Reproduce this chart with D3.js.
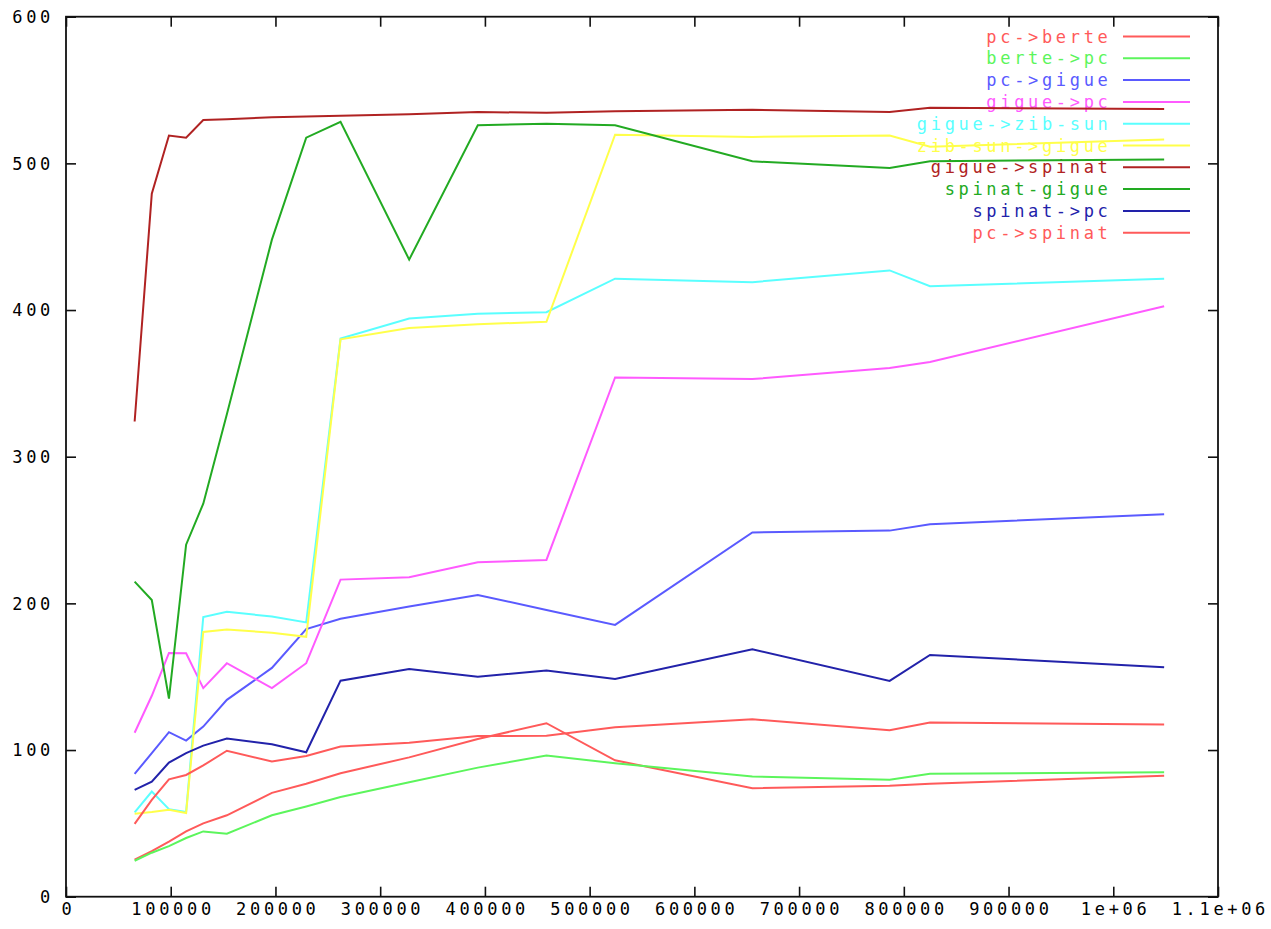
<!DOCTYPE html>
<html>
<head>
<meta charset="utf-8">
<script src="https://cdn.jsdelivr.net/npm/d3@7/dist/d3.min.js"></script>
<style>
  html, body { margin: 0; padding: 0; background: #fff; }
  svg { display: block; }
  text { font-family: "DejaVu Sans Mono", "Liberation Mono", monospace; }
</style>
</head>
<body>
<svg id="chart" width="1271" height="929"></svg>
<script>
// Message sizes (bytes) at which each transfer was measured
const sizes = [65536, 81920, 98304, 114688, 131072, 153600, 196608, 229376, 262144,
               327680, 393216, 458752, 524288, 655360, 786432, 825000, 1048576];

// Throughput per link, one value per size
const pcBerte      = [25.2, 31, 37.5, 44.5, 50, 55.5, 70.8, 77, 84.2, 95, 107.5, 118.3, 93, 74, 75.6, 77, 82.4];
const bertePc      = [24.5, 30, 34.5, 40, 44.5, 43, 55.5, 61.5, 68, 78, 88, 96.3, 91, 82, 79.7, 83.8, 84.9];
const pcGigue      = [83.7, 97.9, 112.2, 106.4, 116, 134.2, 156, 182.5, 189.5, 197.8, 205.7, 195.5, 185.3, 248.4, 249.6, 254, 260.7];
const giguePc      = [111.8, 137, 166.2, 166, 142.2, 159.2, 142.2, 159.2, 216.2, 217.8, 228, 229.6, 354, 352.9, 360.5, 364.6, 402.6];
const gigueZibSun  = [57.5, 71.7, 59.7, 57.8, 190.7, 194.3, 191, 187, 380.5, 394.2, 397.5, 398.5, 421.4, 419, 427, 416.2, 421.4];
const zibSunGigue  = [56.5, 57.7, 59.3, 57, 180.5, 182.2, 180, 177.2, 380, 387.8, 390.3, 392, 519.5, 518, 519, 511.3, 516.3];
const gigueSpinat  = [324, 479.3, 519, 517.5, 529.5, 530, 531.5, 532, 532.5, 533.5, 535, 534.5, 535.5, 536.5, 535, 538, 537];
const spinatGigue  = [214.8, 202.3, 135, 240, 268, 329, 448, 517.5, 528.3, 434.4, 526, 527, 526, 501.4, 496.8, 501.4, 502.7];
const spinatPc     = [72.9, 78.5, 91.5, 97.9, 103, 107.8, 104, 98.5, 147.3, 155.3, 150, 154.2, 148.5, 168.7, 147.1, 164.8, 156.5];
const pcSpinat     = [49.7, 66, 80, 83, 89.5, 99.5, 92.2, 96, 102.4, 105, 109.5, 109.7, 115.6, 121, 113.5, 118.7, 117.4];

const seriesNames  = ["pc->berte", "berte->pc", "pc->gigue", "gigue->pc", "gigue->zib-sun",
                      "zib-sun->gigue", "gigue->spinat", "spinat-gigue", "spinat->pc", "pc->spinat"];
const seriesValues = [pcBerte, bertePc, pcGigue, giguePc, gigueZibSun,
                      zibSunGigue, gigueSpinat, spinatGigue, spinatPc, pcSpinat];
const seriesColors = ["#ff5a5a", "#5cf55c", "#5a5aff", "#ff5aff", "#5affff",
                      "#ffff4a", "#b02222", "#22aa22", "#2222aa", "#ff5a5a"];

const xTicks      = [0, 100000, 200000, 300000, 400000, 500000, 600000, 700000, 800000, 900000, 1000000, 1100000];
const xTickLabels = ["0", "100000", "200000", "300000", "400000", "500000", "600000", "700000", "800000", "900000", "1e+06", "1.1e+06"];
const yTicks      = [0, 100, 200, 300, 400, 500, 600];
const yTickLabels = ["0", "100", "200", "300", "400", "500", "600"];

(function draw() {
  // Layout
  const W = 1271, H = 929;
  const plotL = 66, plotR = 1218, plotT = 16.7, plotB = 896.7;
  const fontSize = 17, letterSp = 3.67, tickLen = 10;

  const svg = d3.select("#chart");
  svg.append("rect").attr("width", W).attr("height", H).attr("fill", "#fff");

  const x = d3.scaleLinear().domain([0, 1100000]).range([plotL, plotR]);
  const y = d3.scaleLinear().domain([0, 600]).range([plotB, plotT]);

  // Axes with inward ticks on all four sides
  const gx = svg.append("g").attr("transform", `translate(0,${plotB})`)
    .call(d3.axisBottom(x).tickValues(xTicks).tickSize(-tickLen).tickPadding(6)
          .tickFormat((d, i) => xTickLabels[i]));
  const gy = svg.append("g").attr("transform", `translate(${plotL},0)`)
    .call(d3.axisLeft(y).tickValues(yTicks).tickSize(-tickLen).tickPadding(12)
          .tickFormat((d, i) => yTickLabels[i]));
  const gxt = svg.append("g").attr("transform", `translate(0,${plotT})`)
    .call(d3.axisTop(x).tickValues(xTicks).tickSize(-tickLen).tickFormat(""));
  const gyr = svg.append("g").attr("transform", `translate(${plotR},0)`)
    .call(d3.axisRight(y).tickValues(yTicks).tickSize(-tickLen).tickFormat(""));

  [gx, gy, gxt, gyr].forEach(g => {
    g.attr("font-family", null).attr("font-size", null);
    g.select(".domain").remove();
    g.selectAll(".tick line").attr("stroke", "#111").attr("stroke-width", 1.6);
    g.selectAll(".tick text")
      .attr("font-size", fontSize)
      .attr("letter-spacing", letterSp)
      .attr("fill", "#000");
  });
  gx.selectAll(".tick text").attr("dx", letterSp / 2);
  gy.selectAll(".tick text").attr("dy", "0.34em");

  // Frame
  svg.append("rect")
    .attr("x", plotL).attr("y", plotT)
    .attr("width", plotR - plotL).attr("height", plotB - plotT)
    .attr("fill", "none").attr("stroke", "#111").attr("stroke-width", 1.8);

  // Legend entries and data lines, drawn series by series
  const line = d3.line().x(d => x(d[0])).y(d => y(d[1]));
  const legendX = 1111.5, sampleX0 = 1123, sampleX1 = 1190, rowY0 = 36.5, rowStep = 21.8;

  seriesNames.forEach((name, i) => {
    const c = seriesColors[i];
    const ry = rowY0 + i * rowStep;
    svg.append("text")
      .attr("x", legendX).attr("y", ry + 6)
      .attr("text-anchor", "end")
      .attr("font-size", fontSize).attr("letter-spacing", letterSp)
      .attr("fill", c).text(name);
    svg.append("line")
      .attr("x1", sampleX0).attr("x2", sampleX1).attr("y1", ry).attr("y2", ry)
      .attr("stroke", c).attr("stroke-width", 2);
    svg.append("path")
      .datum(sizes.map((s, k) => [s, seriesValues[i][k]]))
      .attr("d", line)
      .attr("fill", "none")
      .attr("stroke", c)
      .attr("stroke-width", 2)
      .attr("stroke-linejoin", "miter");
  });
})();
</script>
</body>
</html>
